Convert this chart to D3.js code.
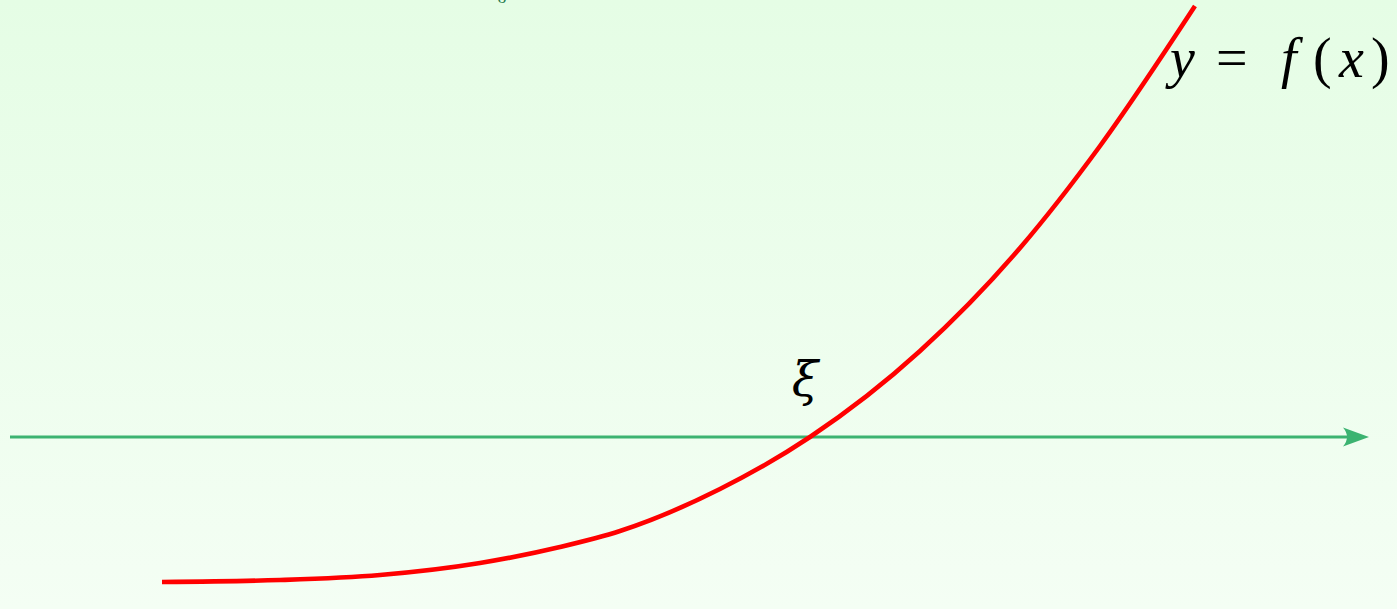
<!DOCTYPE html>
<html>
<head>
<meta charset="utf-8">
<script src="https://cdn.jsdelivr.net/npm/d3@7"></script>
<style>
  html, body { margin: 0; padding: 0; overflow: hidden; }
  svg { display: block; }
</style>
</head>
<body>
<div class="graph"></div>
<script>
// curve points (root xi at x = 0)
var curveX = [-6.48, -5.30, -4.30, -3.30, -2.50, -1.90, -0.90, 0, 1.10, 2.10, 2.90, 3.85];
var curveY = [-1.45, -1.43, -1.38, -1.26, -1.10, -0.94, -0.52, 0, 0.86, 1.89, 2.91, 4.31];
var axisRange = [-8.00, 5.59];
var rootX = 0;
var curveLabel = ["y", "=", "f", "(", "x", ")"];

window.onload = () => {
  var width = 1397, height = 609;

  var svg = d3.select(".graph").append("svg")
    .attr("width", width)
    .attr("height", height);

  var defs = svg.append("defs");
  var grad = defs.append("linearGradient")
    .attr("id", "bg")
    .attr("x1", 0).attr("y1", 0).attr("x2", 0).attr("y2", 1);
  grad.append("stop").attr("offset", "0%").attr("stop-color", "#e5fde5");
  grad.append("stop").attr("offset", "100%").attr("stop-color", "#f4fef4");

  svg.append("rect")
    .attr("width", width)
    .attr("height", height)
    .attr("fill", "url(#bg)");

  var x = d3.scaleLinear().domain([-8.10, 5.87]).range([0, width]);
  var y = d3.scaleLinear().domain([-1.72, 4.37]).range([height, 0]);

  // little glyph cut off at the top edge (as in the original)
  svg.append("text")
    .attr("x", 502)
    .attr("y", 3)
    .attr("text-anchor", "middle")
    .attr("font-family", "Liberation Serif, serif")
    .attr("font-size", 18)
    .attr("fill", "#1f7a4d")
    .text("o");

  // x axis with arrow head
  var axisColor = "#3cb371";
  svg.append("line")
    .attr("x1", x(axisRange[0]))
    .attr("x2", x(axisRange[1]) - 8)
    .attr("y1", y(0))
    .attr("y2", y(0))
    .attr("stroke", axisColor)
    .attr("stroke-width", 2.8);

  var tip = x(axisRange[1]), ay = y(0);
  svg.append("path")
    .attr("d", "M" + tip + "," + ay +
      " L" + (tip - 26) + "," + (ay - 9.5) +
      " Q" + (tip - 18) + "," + ay + " " + (tip - 26) + "," + (ay + 9.5) + " Z")
    .attr("fill", axisColor);

  // the function
  var pts = curveX.map(function (d, i) { return [d, curveY[i]]; });
  var line = d3.line()
    .x(function (d) { return x(d[0]); })
    .y(function (d) { return y(d[1]); })
    .curve(d3.curveMonotoneX);

  svg.append("path")
    .datum(pts)
    .attr("d", line)
    .attr("fill", "none")
    .attr("stroke", "#ff0000")
    .attr("stroke-width", 4.6);

  // labels
  svg.append("text")
    .attr("x", x(rootX) - 5)
    .attr("y", 396)
    .attr("text-anchor", "middle")
    .attr("font-family", "DejaVu Serif, serif")
    .attr("font-style", "italic")
    .attr("font-size", 48)
    .attr("fill", "#000")
    .text("ξ");

  var labelX = [1170, 1216, 1281, 1313, 1339, 1371];
  var lab = svg.append("text")
    .attr("y", 77)
    .attr("font-family", "Liberation Serif, serif")
    .attr("font-size", 56)
    .attr("fill", "#000");
  lab.selectAll("tspan")
    .data(curveLabel)
    .enter().append("tspan")
    .attr("x", function (d, i) { return labelX[i]; })
    .attr("font-style", function (d) { return /[a-z]/.test(d) ? "italic" : "normal"; })
    .text(function (d) { return d; });
};
</script>
</body>
</html>
